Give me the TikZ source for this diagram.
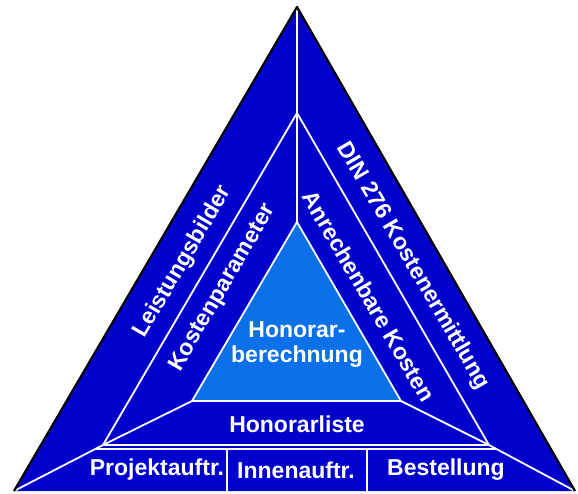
\documentclass[tikz,border=0pt]{standalone}
\usepackage{fontspec}
\setmainfont{Liberation Sans}
\usetikzlibrary{calc}
\definecolor{outerblue}{RGB}{0,0,204}
\definecolor{innerblue}{RGB}{12,112,232}

\begin{document}
\begin{tikzpicture}[x=1pt,y=-1pt,
          lbl/.style={text=white,font=\bfseries\fontsize{23}{25}\selectfont,inner sep=0pt},
          sep/.style={draw=white,line width=1.8pt}]
        \useasboundingbox (0,0) rectangle (578,493);
        % corners of the three triangles
        \coordinate (top) at (297,7);
        \coordinate (bl) at (14,491);
        \coordinate (br) at (575,491);
        \coordinate (mtop) at (297,113);
        \coordinate (ml) at (103,445);
        \coordinate (mr) at (489,445);
        \coordinate (itop) at (297,222);
        \coordinate (il) at (192,401);
        \coordinate (ir) at (401,401);
        % bottom strip
        \coordinate (sl) at ($(ml)!0.09!(bl)$);
        \coordinate (sr) at ($(mr)!0.09!(br)$);
        \coordinate (d1t) at (227,449);
        \coordinate (d1b) at (227,493);
        \coordinate (d2t) at (367,449);
        \coordinate (d2b) at (367,493);
        \fill[outerblue] (top)--(bl)--(br)--cycle;
        \fill[innerblue] (itop)--(il)--(ir)--cycle;
        \foreach \a/\b in {top/itop,mtop/ml,ml/mr,mr/mtop,itop/il,il/ir,ir/itop,il/ml,ir/mr,ml/bl,mr/br,sl/sr,d1t/d1b,d2t/d2b}
          \draw[sep] (\a)--(\b);
        \draw[black,line width=2.2pt,line join=round] (bl)--(top)--(br);
        \node[lbl,rotate=59.7] (leist) at (183,262) {Leistungsbilder};
        \node[lbl,rotate=59.7] (kpar) at (223,288) {Kostenparameter};
        \node[lbl,rotate=-59.7] (din) at (413,266) {DIN 276 Kostenermittlung};
        \node[lbl,rotate=-59.7] (anr) at (369,296) {Anrechenbare Kosten};
        \node[lbl,align=center] (hb) at (297,345) {Honorar-\\berechnung};
        \node[lbl] (hl) at (297,424) {Honorarliste};
        \node[lbl] (proj) at (157,470) {Projektauftr.};
        \node[lbl] (inn) at (296,470) {Innenauftr.};
        \node[lbl] (best) at (446,470) {Bestellung};
      \end{tikzpicture}
\end{document}
